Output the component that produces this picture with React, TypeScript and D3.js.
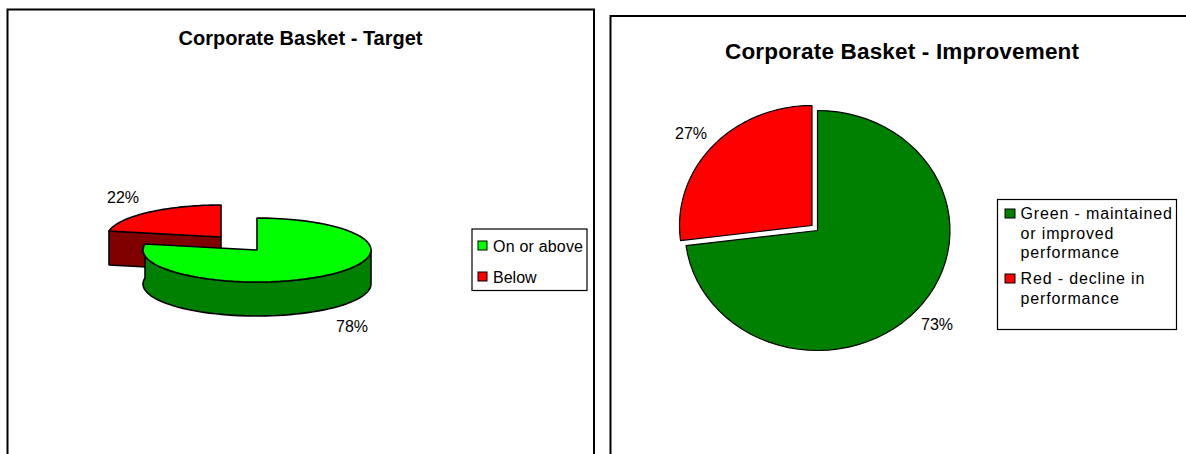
import React from "react";
import * as d3 from "d3";

const leftLabels = ["On or above", "Below"];
const leftValues = [78, 22];
const leftColors = ["#00ff00", "#ff0000"];
const leftSides = ["#008000", "#800000"];
const rightValues = [73, 27];
const rightColors = ["#008000", "#ff0000"];
const rightLegend = [
  ["Green - maintained", "or improved", "performance"],
  ["Red - decline in", "performance"],
];
const FONT = "Liberation Sans, Arial, sans-serif";

const pie = d3.pie<number>().sort(null);
const line = d3.line<[number, number]>();

function pts(cx: number, cy: number, rx: number, ry: number, a0: number, a1: number): [number, number][] {
  const n = 60;
  return d3.range(n + 1).map((i) => {
    const a = a0 + ((a1 - a0) * i) / n;
    return [cx + rx * Math.sin(a), cy - ry * Math.cos(a)] as [number, number];
  });
}
function wedge(cx: number, cy: number, rx: number, ry: number, a0: number, a1: number) {
  return line([[cx, cy], ...pts(cx, cy, rx, ry, a0, a1)]) + "Z";
}
function side(cx: number, cy: number, rx: number, ry: number, a0: number, a1: number, d: number) {
  const top = pts(cx, cy, rx, ry, a0, a1);
  const bottom = top.map(([x, y]) => [x, y + d] as [number, number]).reverse();
  return line([...top, ...bottom]) + "Z";
}

export default function App() {
  const la = pie(leftValues);
  const ra = pie(rightValues);
  const rx3 = 114, ry3 = 32, depth = 34;
  const gc = { x: 257, y: 250 };
  const rc = { x: 221, y: 237 };
  const gA = la[0], rA = la[1];
  const rx2 = 132.5, ry2 = 120;
  const c2 = { x: 817.5, y: 230.5 };
  const r2 = { x: 812, y: 225.5 };
  const redEdge = pts(rc.x, rc.y, rx3, ry3, rA.startAngle, rA.startAngle)[0];
  return (
    <svg width={1186} height={454} style={{ position: "absolute", left: 0, top: 0, background: "#fff" }} fontFamily={FONT} fill="#000">
      <path d="M7.5,454V9.5H594V454" fill="none" stroke="#000" strokeWidth={2} />
      <path d="M610.5,454V16H1186" fill="none" stroke="#000" strokeWidth={2} />
      <text x={300.5} y={45} textAnchor="middle" fontSize={20} fontWeight={700} textLength={244} lengthAdjust="spacing">Corporate Basket - Target</text>
      <text x={902} y={59} textAnchor="middle" fontSize={22.5} fontWeight={700} textLength={354} lengthAdjust="spacing">Corporate Basket - Improvement</text>

      {/* Left: exploded 3D pie */}
      <g stroke="#000" strokeWidth={1.6} strokeLinejoin="round">
        <path d={line([[rc.x, rc.y], redEdge, [redEdge[0], redEdge[1] + depth], [rc.x, rc.y + depth]]) + "Z"} fill={leftSides[1]} />
        <path d={wedge(rc.x, rc.y, rx3, ry3, rA.startAngle, rA.endAngle)} fill={leftColors[1]} />
        <path d={side(gc.x, gc.y, rx3, ry3, Math.PI / 2, gA.endAngle, depth)} fill={leftSides[0]} />
        <path d={wedge(gc.x, gc.y, rx3, ry3, gA.startAngle, gA.endAngle)} fill={leftColors[0]} />
      </g>
      <text x={123} y={203} textAnchor="middle" fontSize={16}>22%</text>
      <text x={352} y={332} textAnchor="middle" fontSize={16}>78%</text>

      {/* Left legend */}
      <rect x={472} y={229} width={115} height={61.5} fill="#fff" stroke="#000" strokeWidth={1.2} />
      {leftLabels.map((l, i) => (
        <g key={l}>
          <rect x={478} y={241 + i * 31} width={9} height={9} fill={leftColors[i]} stroke="#000" strokeWidth={1} />
          <text x={493} y={251.5 + i * 31} fontSize={16} textLength={i === 0 ? 90 : undefined}>{l}</text>
        </g>
      ))}

      {/* Right: exploded flat pie */}
      <g stroke="#000" strokeWidth={1.2} strokeLinejoin="round">
        <path d={wedge(c2.x, c2.y, rx2, ry2, ra[0].startAngle, ra[0].endAngle)} fill={rightColors[0]} />
        <path d={wedge(r2.x, r2.y, rx2, ry2, ra[1].startAngle, ra[1].endAngle)} fill={rightColors[1]} />
      </g>
      <text x={691} y={139} textAnchor="middle" fontSize={16}>27%</text>
      <text x={937} y={330} textAnchor="middle" fontSize={16}>73%</text>

      {/* Right legend */}
      <rect x={997.5} y={199.5} width={179} height={130} fill="#fff" stroke="#000" strokeWidth={1.2} />
      {rightLegend.map((lines, i) => {
        const base = i === 0 ? 219 : 284;
        return (
          <g key={i}>
            <rect x={1005} y={base - 10} width={10} height={9} fill={rightColors[i]} stroke="#000" strokeWidth={1} />
            {lines.map((t, j) => (
              <text key={t} x={1020.5} y={base + j * 19.5} fontSize={16} letterSpacing={0.85}>{t}</text>
            ))}
          </g>
        );
      })}
    </svg>
  );
}
